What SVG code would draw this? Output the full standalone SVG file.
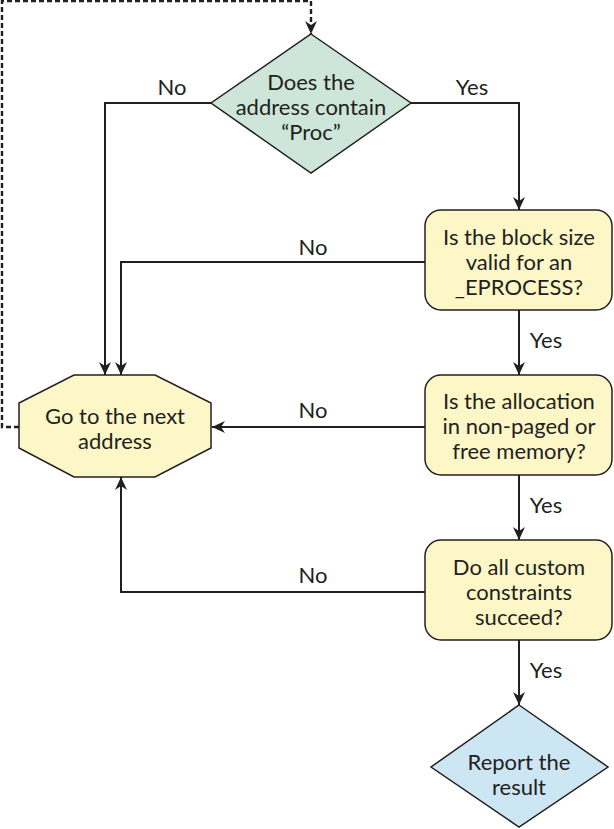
<svg xmlns="http://www.w3.org/2000/svg" width="614" height="829" viewBox="0 0 614 829">
<defs>
<marker id="arr" markerUnits="userSpaceOnUse" markerWidth="14" markerHeight="12" refX="13" refY="6" orient="auto">
<path d="M0,0 L13,6 L0,12 L4,6 z" fill="#231f20"/>
</marker>
</defs>
<style>
.shape{stroke:#231f20;stroke-width:1.5}
.green{fill:#cde6d9}
.yellow{fill:#fdf6c6}
.blue{fill:#cde6f4}
.lbl{font-family:Lato,"Noto Sans",sans-serif;font-size:22px;fill:#231f20;text-anchor:middle}
.conn{fill:none;stroke:#231f20;stroke-width:2}
.dash{stroke-dasharray:5 3;stroke-width:2.4}
</style>
<rect width="614" height="829" fill="#ffffff"/>
<g id="connectors">
<polyline class="conn dash" points="19,427 2,427 2,1 311,1 311,34" marker-end="url(#arr)"/>
<polyline class="conn" points="211,103 105,103 105,375" marker-end="url(#arr)"/>
<polyline class="conn" points="411,103 519,103 519,210" marker-end="url(#arr)"/>
<polyline class="conn" points="425,262 121,262 121,375" marker-end="url(#arr)"/>
<polyline class="conn" points="519,310 519,375" marker-end="url(#arr)"/>
<polyline class="conn" points="425,427 212,427" marker-end="url(#arr)"/>
<polyline class="conn" points="519,475 519,540" marker-end="url(#arr)"/>
<polyline class="conn" points="425,592 121,592 121,477" marker-end="url(#arr)"/>
<polyline class="conn" points="519,640 519,705" marker-end="url(#arr)"/>
<text class="lbl" x="172" y="95">No</text>
<text class="lbl" x="472" y="95">Yes</text>
<text class="lbl" x="313" y="255">No</text>
<text class="lbl" x="546" y="348">Yes</text>
<text class="lbl" x="313" y="418">No</text>
<text class="lbl" x="546" y="513">Yes</text>
<text class="lbl" x="313" y="583">No</text>
<text class="lbl" x="546" y="678">Yes</text>
</g>
<g id="proc">
<polygon class="shape green" points="311,34 411,103 311,173 211,103"/>
<text class="lbl" x="311" y="90">Does the</text>
<text class="lbl" x="311" y="115">address contain</text>
<text class="lbl" x="311" y="140">“Proc”</text>
</g>
<g id="blocksize">
<rect class="shape yellow" x="425" y="210" width="187" height="100" rx="16"/>
<text class="lbl" x="519" y="245">Is the block size</text>
<text class="lbl" x="519" y="270">valid for an</text>
<text class="lbl" x="519" y="295">_EPROCESS?</text>
</g>
<g id="allocation">
<rect class="shape yellow" x="425" y="375" width="187" height="100" rx="16"/>
<text class="lbl" x="519" y="409">Is the allocation</text>
<text class="lbl" x="519" y="434">in non-paged or</text>
<text class="lbl" x="519" y="459">free memory?</text>
</g>
<g id="constraints">
<rect class="shape yellow" x="425" y="540" width="187" height="100" rx="16"/>
<text class="lbl" x="519" y="575">Do all custom</text>
<text class="lbl" x="519" y="600">constraints</text>
<text class="lbl" x="519" y="625">succeed?</text>
</g>
<g id="next">
<polygon class="shape yellow" points="74,375 155,375 211,403 211,448 155,477 74,477 19,448 19,403"/>
<text class="lbl" x="115" y="424">Go to the next</text>
<text class="lbl" x="115" y="449">address</text>
</g>
<g id="report">
<polygon class="shape blue" points="519,705 608,767 519,827 431,767"/>
<text class="lbl" x="519" y="770">Report the</text>
<text class="lbl" x="519" y="795">result</text>
</g>
</svg>
